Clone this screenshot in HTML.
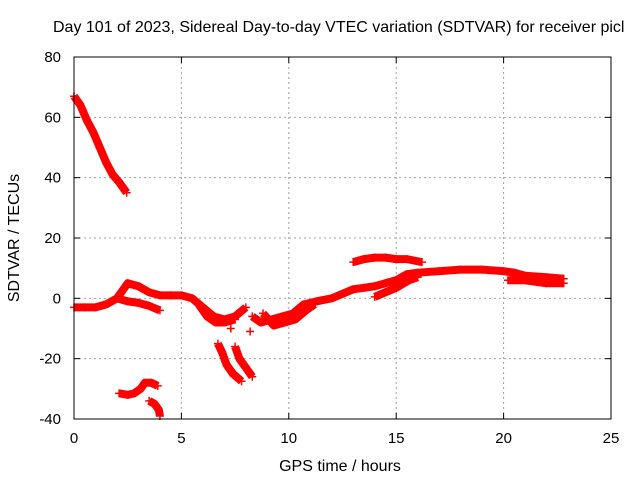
<!DOCTYPE html>
<html><head><meta charset="utf-8"><style>
body{margin:0;background:#fff;}
svg{display:block;font-family:"Liberation Sans",sans-serif;}
</style></head><body>
<svg id="chart" width="640" height="480" viewBox="0 0 640 480" xmlns="http://www.w3.org/2000/svg">
<rect width="640" height="480" fill="#fff"/>
<text x="53" y="32" font-size="16" fill="#000">Day 101 of 2023, Sidereal Day-to-day VTEC variation (SDTVAR) for receiver picl</text>
<g id="grid"></g>
<g id="series"></g>
<g id="axes"></g>
<text x="340" y="471" font-size="16" text-anchor="middle">GPS time / hours</text>
<text transform="translate(19,238) rotate(-90)" font-size="16" text-anchor="middle">SDTVAR / TECUs</text>
</svg>
<script>
const xTicks=[0,5,10,15,20,25];
const yTicks=[-40,-20,0,20,40,60,80];
const segA=[[0,67],[0.3,64],[0.6,59],[0.9,55],[1.2,50],[1.5,45],[1.8,41],[2.1,38.5],[2.45,35]];
const segB=[[0,-3],[0.5,-3],[1,-3],[1.5,-2],[2,0],[2.3,3],[2.5,5],[3,4],[3.5,2],[4,1],[4.5,1],[5,1],[5.5,0],[6,-3],[6.5,-6],[7,-7],[7.5,-6],[8,-3]];
const segB2=[[2,0],[2.5,-1],[3,-1.5],[3.5,-2.5],[4,-4]];
const segB3=[[5.8,-2],[6.2,-6],[6.6,-8],[7.0,-8],[7.5,-7]];
const segC=[[2.1,-31.5],[2.5,-32],[2.8,-31.5],[3.1,-30],[3.3,-28],[3.6,-28],[3.9,-29]];
const segD=[[3.5,-34],[3.75,-35],[3.95,-37],[4.0,-39]];
const segE=[[6.7,-15],[6.9,-18],[7.1,-22],[7.4,-25],[7.8,-27.5]];
const segF=[[7.5,-16],[7.7,-20],[8.0,-23],[8.3,-26]];
const segG=[[8.3,-6],[8.7,-8],[9.2,-7],[9.7,-6],[10.2,-5],[10.7,-2],[11.3,-1],[12,0],[12.5,1.5],[13,3],[13.5,3.5],[14,4],[14.5,5],[15,6],[15.5,8],[16,8.5],[17,9],[18,9.5],[19,9.5],[20,9],[20.5,8.5],[21,7.5],[22,7],[22.8,6.5]];
const segG2=[[8.8,-5],[9.3,-9],[9.8,-8],[10.3,-7],[10.8,-4],[11.2,-2]];
const segH=[[14,0.5],[14.5,2],[15,3.5],[15.6,6],[16,7]];
const segI=[[13,12],[13.5,13],[14,13.5],[14.5,13.5],[15,13],[15.5,13],[16.2,12]];
const segJ=[[20.2,6],[21,6],[22,5],[22.8,5]];
const singles=[[7.3,-10],[8.2,-11]];
const segments=[segA,segB,segB2,segB3,segC,segD,segE,segF,segG,segG2,segH,segI,segJ];

const X0=74,X1=611,Y0=419,Y1=57,XMIN=0,XMAX=25,YMIN=-40,YMAX=80;
const sx=t=>X0+(t-XMIN)/(XMAX-XMIN)*(X1-X0);
const sy=v=>Y0-(v-YMIN)/(YMAX-YMIN)*(Y0-Y1);
const NS='http://www.w3.org/2000/svg';
function mk(tag,attrs,parent){const e=document.createElementNS(NS,tag);for(const k in attrs)e.setAttribute(k,attrs[k]);parent.appendChild(e);return e;}
const grid=document.getElementById('grid'),axes=document.getElementById('axes'),ser=document.getElementById('series');
xTicks.forEach(t=>{
  if(t>XMIN&&t<XMAX){const g=mk('line',{x1:sx(t),x2:sx(t),y1:Y1,y2:Y0,stroke:'#a0a0a0','stroke-dasharray':'2,3'},grid);
  
  }
  const l=mk('text',{x:sx(t),y:Y0+24,'font-size':15,'text-anchor':'middle'},axes);l.textContent=t;
  
  
  mk('line',{x1:sx(t),x2:sx(t),y1:Y0,y2:Y0-6,stroke:'#000'},axes);
  mk('line',{x1:sx(t),x2:sx(t),y1:Y1,y2:Y1+6,stroke:'#000'},axes);
});
yTicks.forEach(v=>{
  if(v>YMIN&&v<YMAX){const g=mk('line',{x1:X0,x2:X1,y1:sy(v),y2:sy(v),stroke:'#a0a0a0','stroke-dasharray':'2,3'},grid);
  
  }
  const l=mk('text',{x:X0-13,y:sy(v)+5,'font-size':15,'text-anchor':'end'},axes);l.textContent=v;
  
  
  mk('line',{x1:X0,x2:X0+6,y1:sy(v),y2:sy(v),stroke:'#000'},axes);
  mk('line',{x1:X1,x2:X1-6,y1:sy(v),y2:sy(v),stroke:'#000'},axes);
});
const border=mk('rect',{x:X0,y:Y1,width:X1-X0,height:Y0-Y1,fill:'none',stroke:'#000'},axes);


segments.forEach(seg=>{
  const p=mk('polyline',{points:seg.map(d=>sx(d[0])+','+sy(d[1])).join(' '),fill:'none',stroke:'#f00','stroke-width':8,'stroke-linejoin':'round'},ser);
  
  
  seg.forEach(d=>{
    const m=mk('path',{d:`M${sx(d[0])-4},${sy(d[1])}h8M${sx(d[0])},${sy(d[1])-4}v8`,stroke:'#f00','stroke-width':1.5},ser);
    
    
  });
});
singles.forEach(d=>{
  const m=mk('path',{d:`M${sx(d[0])-4},${sy(d[1])}h8M${sx(d[0])},${sy(d[1])-4}v8`,stroke:'#f00','stroke-width':1.5},ser);
  
  
});
</script>
</body></html>
